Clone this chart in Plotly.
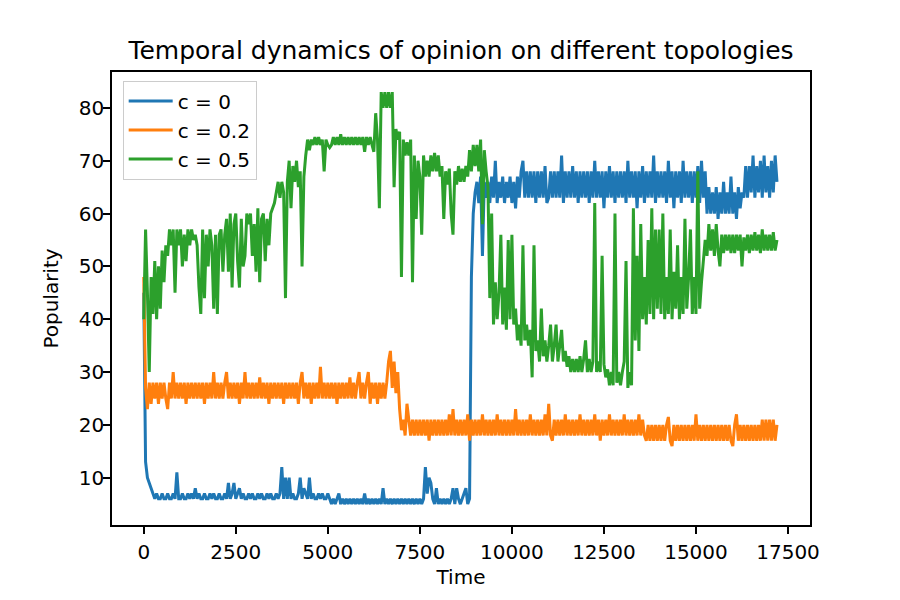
import plotly.graph_objects as go

# time axis: one sample every 50 steps
time = list(range(0, 17201, 50))

# c = 0
pop_c0 = (
    [45, 13, 10, 9, 8, 7, 6, 7, 6, 6, 7, 6, 6, 7, 6, 6, 7, 6, 11, 6]
    + [6, 7, 6, 6, 7, 6, 7, 6, 8, 6, 7, 6, 6, 7, 6, 6, 7, 6, 7, 6]
    + [6, 7, 6, 6, 7, 6, 9, 6, 7, 9, 6, 7, 8, 6, 7, 6, 6, 7, 6, 7]
    + [6, 6, 7, 6, 7, 6, 6, 7, 6, 7, 6, 6, 7, 6, 7, 12, 6, 10, 6, 10]
    + [6, 7, 6, 6, 7, 10, 6, 8, 7, 6, 10, 6, 7, 6, 6, 7, 6, 7, 6, 6]
    + [7, 6, 5, 6, 5, 6, 7, 5, 6, 5, 6, 5, 6, 5, 6, 5, 6, 5, 6, 5]
    + [7, 5, 6, 5, 6, 5, 6, 5, 6, 5, 8, 5, 6, 5, 6, 5, 6, 5, 6, 5]
    + [6, 5, 6, 5, 6, 5, 6, 5, 6, 5, 6, 5, 6, 12, 7, 10, 9, 6, 5, 8]
    + [5, 6, 5, 6, 5, 6, 5, 6, 8, 5, 8, 6, 5, 6, 7, 8, 5, 6, 48, 60]
    + [64, 66, 62, 67, 52, 66, 63, 66, 62, 67, 63, 70, 62, 66, 63, 67, 62, 66, 63, 67]
    + [62, 66, 61, 67, 63, 68, 70, 63, 68, 63, 68, 63, 68, 62, 68, 63, 68, 63, 69, 62]
    + [63, 68, 63, 68, 63, 68, 63, 71, 62, 68, 63, 68, 63, 69, 63, 68, 62, 68, 63, 68]
    + [63, 68, 62, 68, 63, 70, 63, 68, 63, 68, 61, 68, 63, 69, 63, 68, 62, 68, 63, 68]
    + [63, 68, 62, 70, 63, 68, 63, 68, 61, 68, 63, 69, 62, 68, 63, 68, 63, 71, 62, 68]
    + [63, 68, 63, 68, 62, 70, 63, 68, 61, 68, 63, 68, 62, 70, 63, 68, 63, 68, 62, 68]
    + [63, 69, 62, 70, 63, 68, 60, 65, 60, 64, 60, 65, 59, 64, 60, 66, 60, 64, 60, 67]
    + [60, 64, 59, 65, 61, 64, 63, 69, 63, 69, 64, 71, 63, 69, 64, 70, 63, 71, 64, 69]
    + [63, 70, 64, 71, 66]
)

# c = 0.2
pop_c02 = (
    [48, 27, 23, 28, 24, 28, 25, 28, 24, 28, 25, 28, 25, 23, 28, 25, 30, 25, 28, 25]
    + [28, 25, 28, 24, 28, 25, 28, 25, 28, 25, 28, 25, 28, 24, 28, 25, 28, 25, 30, 25]
    + [28, 25, 28, 25, 28, 30, 25, 28, 25, 28, 25, 28, 24, 28, 25, 30, 25, 28, 25, 28]
    + [25, 28, 25, 29, 25, 28, 25, 28, 24, 28, 25, 28, 25, 28, 25, 28, 24, 28, 25, 28]
    + [25, 28, 25, 28, 24, 28, 30, 25, 28, 25, 28, 24, 28, 25, 28, 25, 31, 25, 28, 25]
    + [28, 25, 28, 25, 28, 24, 28, 25, 28, 25, 28, 25, 29, 25, 28, 25, 28, 30, 25, 28]
    + [25, 28, 30, 24, 28, 25, 28, 24, 28, 25, 28, 25, 28, 32, 34, 27, 32, 26, 30, 23]
    + [19, 21, 18, 24, 21, 18, 21, 18, 21, 18, 21, 18, 21, 18, 21, 17, 21, 18, 21, 18]
    + [21, 18, 21, 18, 21, 18, 22, 18, 23, 18, 21, 18, 21, 18, 21, 18, 22, 17, 21, 18]
    + [21, 18, 21, 18, 22, 18, 21, 18, 21, 18, 21, 18, 22, 18, 21, 18, 21, 18, 21, 18]
    + [21, 18, 23, 18, 21, 18, 21, 18, 21, 18, 22, 18, 21, 18, 21, 18, 21, 18, 22, 18]
    + [24, 18, 17, 21, 18, 21, 18, 21, 18, 22, 18, 21, 18, 21, 18, 21, 18, 22, 18, 21]
    + [18, 21, 18, 21, 18, 22, 18, 21, 17, 21, 18, 21, 18, 22, 18, 21, 18, 21, 18, 21]
    + [18, 22, 18, 21, 18, 21, 18, 21, 18, 22, 18, 21, 18, 17, 20, 17, 20, 17, 20, 17]
    + [20, 17, 20, 17, 20, 21.5, 17, 16, 20, 17, 20, 17, 20, 17, 20, 17, 20, 17, 20, 17]
    + [22, 17, 20, 17, 20, 17, 20, 17, 20, 17, 20, 17, 20, 17, 20, 17, 20, 17, 20, 17]
    + [16, 20, 22, 17, 20, 17, 20, 17, 20, 17, 20, 17, 20, 17, 20, 17, 21, 17, 21, 17]
    + [21, 17, 21, 17, 20]
)

# c = 0.5
pop_c05 = (
    [40, 57, 45, 30, 48, 41, 51, 40, 50, 42, 53, 47, 54, 52, 57, 54, 57, 45, 57, 54]
    + [57, 50, 56, 51, 57, 54, 57, 55, 56, 54, 46, 41, 57, 44, 56, 50, 57, 54, 42, 56]
    + [41, 56, 57, 49, 56, 59, 49, 60, 46, 58, 60, 51, 46, 59, 50, 52, 60, 58, 60, 52]
    + [58, 49, 61, 47, 59, 60, 51, 59, 54, 60, 61, 62, 64, 66, 63, 66, 64, 44, 66, 70]
    + [61, 69, 66, 70, 65, 68, 50, 67, 71, 74, 72, 74, 73, 74.5, 73, 74.5, 73, 74, 68, 74]
    + [73, 72.5, 73, 74.5, 73, 74.5, 73, 75, 73, 74.5, 73, 74.5, 73, 74.5, 73, 74.5, 73, 74.5, 73, 74.5]
    + [71.7, 74.5, 73, 74.5, 73, 71.7, 79, 74, 61, 83, 80, 83, 80, 83, 80, 83, 65, 76, 74, 75.5]
    + [48, 74, 71, 73.5, 71, 74, 47, 71, 59, 70, 67, 56, 71, 67, 70, 67, 71, 68, 71.5, 68]
    + [71, 67, 69, 59, 68, 65.5, 68.5, 60, 56, 68, 65.5, 69, 66, 68.5, 66, 69, 67, 72, 68, 73]
    + [69, 73, 68, 74, 58, 72, 68, 65, 44, 60, 39, 47, 40, 45, 56, 39, 46, 38, 55, 40]
    + [56, 39, 42, 36, 39, 35, 54, 36, 39, 35, 38, 29, 54, 34, 36, 32, 42, 33, 36, 32]
    + [35, 39, 32, 35, 39, 32, 35, 38, 32, 34, 31, 33, 30, 32.5, 30, 32.5, 30, 33, 30, 32.5]
    + [36, 30, 32.5, 30, 32, 62, 30, 32, 30, 52, 31.5, 29, 30.5, 27.5, 30, 27.5, 60, 28, 30, 27.5]
    + [30, 32, 51, 27, 30, 27.5, 61, 36, 52, 34, 58, 40, 48, 39, 55, 41, 61, 40, 57, 42]
    + [57, 41, 60, 40, 48, 41, 57, 40, 49, 42, 54, 40, 48, 41, 59, 42, 48, 57, 41, 48]
    + [41, 68, 42, 47, 51, 55, 52, 58, 53, 57, 52, 58, 53, 50, 56, 52.5, 56, 53, 56, 52.5]
    + [56, 52.5, 56, 53, 56, 50, 55.5, 53, 56, 52.5, 56, 53, 56.5, 53, 56, 52.5, 57, 53, 56, 53]
    + [56, 53, 56.5, 53, 55]
)

series_names = ["c = 0", "c = 0.2", "c = 0.5"]
series_values = [pop_c0, pop_c02, pop_c05]
series_colors = ["#1f77b4", "#ff7f0e", "#2ca02c"]

x_ticks = [0, 2500, 5000, 7500, 10000, 12500, 15000, 17500]
y_ticks = [10, 20, 30, 40, 50, 60, 70, 80]

fig = go.Figure()
for name, vals, col in zip(series_names, series_values, series_colors):
    fig.add_trace(go.Scatter(x=time[:len(vals)], y=vals, mode="lines", name=name,
                             line=dict(color=col, width=3, simplify=False)))

axis_style = dict(showline=True, linecolor="black", linewidth=1.6, mirror=True,
                  ticks="outside", ticklen=7, tickwidth=1.6, tickcolor="black",
                  showgrid=False, zeroline=False,
                  tickfont=dict(family="DejaVu Sans", size=20, color="black"))

fig.update_layout(
    width=900, height=600,
    margin=dict(l=112, r=90, t=72, b=75),
    paper_bgcolor="white", plot_bgcolor="white",
    font=dict(family="DejaVu Sans", size=20, color="black"),
    title=dict(text="Temporal dynamics of opinion on different topologies",
               x=0.5, xref="paper", xanchor="center",
               y=1 - 50 / 600, yref="container", yanchor="middle",
               font=dict(family="DejaVu Sans", size=25, color="black")),
    legend=dict(x=0.0153, y=0.981, xanchor="left", yanchor="top",
                itemwidth=44, entrywidth=92, entrywidthmode="pixels",
                bgcolor="rgba(255,255,255,0.8)", bordercolor="#cccccc", borderwidth=1,
                font=dict(family="DejaVu Sans", size=20, color="black")),
    showlegend=True,
)
fig.update_xaxes(range=[-862, 18097], tickvals=x_ticks, tickformat="d",
                 ticklabelstandoff=1,
                 title=dict(text="Time", standoff=7,
                            font=dict(family="DejaVu Sans", size=20, color="black")),
                 **axis_style)
fig.update_yaxes(range=[1.05, 86.8], tickvals=y_ticks,
                 ticklabelstandoff=-5,
                 title=dict(text="Popularity", standoff=15,
                            font=dict(family="DejaVu Sans", size=20, color="black")),
                 **axis_style)

fig.write_html("out.html")
